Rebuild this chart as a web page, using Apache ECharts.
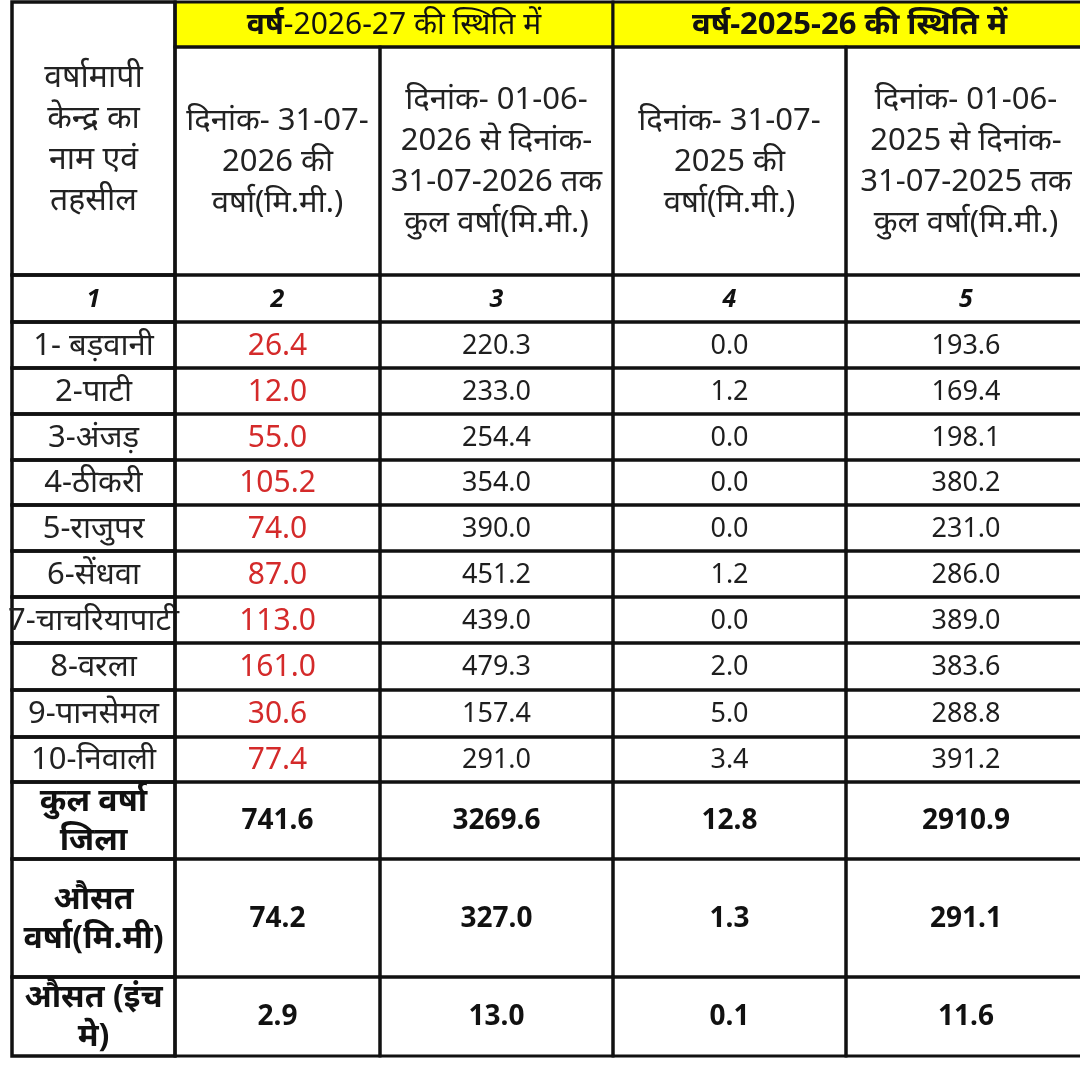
<!DOCTYPE html>
<html>
<head>
<meta charset="utf-8" />
<title>वर्षा तालिका</title>
<script src="https://cdn.jsdelivr.net/npm/echarts@6.0.0/dist/echarts.min.js"></script>
<style>html,body{margin:0;padding:0;background:#fff;}</style>
</head>
<body>
<div id="main" style="width:1080px;height:1073px;"></div>
<script type="text/javascript">
// ---- data ----
var yearHeaders = ['वर्ष-2026-27 की स्थिति में', 'वर्ष-2025-26 की स्थिति में'];
var colHeaders = [
    'वर्षामापी\nकेन्द्र का\nनाम एवं\nतहसील',
    'दिनांक- 31-07-\n2026 की\nवर्षा(मि.मी.)',
    'दिनांक- 01-06-\n2026 से दिनांक-\n31-07-2026 तक\nकुल वर्षा(मि.मी.)',
    'दिनांक- 31-07-\n2025 की\nवर्षा(मि.मी.)',
    'दिनांक- 01-06-\n2025 से दिनांक-\n31-07-2025 तक\nकुल वर्षा(मि.मी.)'
];
var colNumbers = ['1', '2', '3', '4', '5'];
var stations = ['1- बड़वानी', '2-पाटी', '3-अंजड़', '4-ठीकरी', '5-राजुपर', '6-सेंधवा',
    '7-चाचरियापाटी', '8-वरला', '9-पानसेमल', '10-निवाली'];
var rain2026Day = [26.4, 12.0, 55.0, 105.2, 74.0, 87.0, 113.0, 161.0, 30.6, 77.4];
var rain2026Total = [220.3, 233.0, 254.4, 354.0, 390.0, 451.2, 439.0, 479.3, 157.4, 291.0];
var rain2025Day = [0.0, 1.2, 0.0, 0.0, 0.0, 1.2, 0.0, 2.0, 5.0, 3.4];
var rain2025Total = [193.6, 169.4, 198.1, 380.2, 231.0, 286.0, 389.0, 383.6, 288.8, 391.2];
var summaryLabels = ['कुल वर्षा\nजिला', 'औसत\nवर्षा(मि.मी)', 'औसत (इंच\nमे)'];
var districtTotal = [741.6, 3269.6, 12.8, 2910.9];
var averageMm = [74.2, 327.0, 1.3, 291.1];
var averageInch = [2.9, 13.0, 0.1, 11.6];

// ---- layout (pixel units on hidden axes) ----
var colEdges = [12, 175, 380, 613, 846, 1086];
var rowEdges = [2, 47, 275, 322, 368, 414, 460, 505, 551, 597, 643, 690, 737, 782, 859, 977, 1056];

var FONT = "'Noto Sans', 'Noto Sans Devanagari', Lato, sans-serif";
var styles = {
    head: { fontSize: 31, lineHeight: 41, color: '#222' },
    head1: { fontSize: 32, lineHeight: 41, color: '#222' },
    num: { fontSize: 25, fontWeight: 'bold', fontStyle: 'italic', color: '#111' },
    station: { fontSize: 31, color: '#222' },
    red: { fontSize: 30, color: '#d42a2a' },
    val: { fontSize: 27, color: '#1e1e1e' },
    sumLabel: { fontSize: 32, fontWeight: 'bold', lineHeight: 39, color: '#111' },
    sumVal: { fontSize: 28, fontWeight: 'bold', color: '#111' },
    yearA: { fontSize: 30, color: '#111' },
    yearB: { fontSize: 31, fontWeight: 'bold', color: '#111' }
};

// build cell list
var cells = [];
function addCell(c0, c1, r0, r1, text, style, fill) {
    cells.push({ c0: c0, c1: c1, r0: r0, r1: r1, text: text, style: style, fill: fill || null });
}
addCell(1, 3, 0, 1, yearHeaders[0], 'yearA', '#ffff00');
addCell(3, 5, 0, 1, yearHeaders[1], 'yearB', '#ffff00');
addCell(0, 1, 0, 2, colHeaders[0], 'head1');
for (var c = 1; c < 5; c++) addCell(c, c + 1, 1, 2, colHeaders[c], 'head');
colNumbers.forEach(function (n, i) { addCell(i, i + 1, 2, 3, n, 'num'); });
stations.forEach(function (name, i) {
    var r = 3 + i;
    addCell(0, 1, r, r + 1, name, 'station');
    addCell(1, 2, r, r + 1, rain2026Day[i].toFixed(1), 'red');
    addCell(2, 3, r, r + 1, rain2026Total[i].toFixed(1), 'val');
    addCell(3, 4, r, r + 1, rain2025Day[i].toFixed(1), 'val');
    addCell(4, 5, r, r + 1, rain2025Total[i].toFixed(1), 'val');
});
[districtTotal, averageMm, averageInch].forEach(function (row, k) {
    var r = 13 + k;
    addCell(0, 1, r, r + 1, summaryLabels[k], 'sumLabel');
    row.forEach(function (v, j) {
        addCell(j + 1, j + 2, r, r + 1, v.toFixed(1), 'sumVal');
    });
});

var seriesData = cells.map(function (d) {
    return [colEdges[d.c0], rowEdges[d.r0], colEdges[d.c1], rowEdges[d.r1]];
});

function renderItem(params, api) {
    var cell = cells[params.dataIndex];
    var p0 = api.coord([api.value(0), api.value(1)]);
    var p1 = api.coord([api.value(2), api.value(3)]);
    var st = styles[cell.style];
    var textStyle = {
        text: cell.text,
        fontFamily: FONT,
        fontSize: st.fontSize,
        fontWeight: st.fontWeight || 'normal',
        fontStyle: st.fontStyle || 'normal',
        lineHeight: st.lineHeight,
        fill: st.color,
        align: 'center',
        verticalAlign: 'middle'
    };
    if (cell.style === 'yearA') {
        // first word bold, rest regular
        var parts = cell.text.split('-');
        textStyle.text = '{b|' + parts[0] + '}{n|-' + parts.slice(1).join('-') + '}';
        textStyle.rich = {
            b: { fontFamily: FONT, fontSize: st.fontSize, fontWeight: 'bold', fill: st.color },
            n: { fontFamily: FONT, fontSize: st.fontSize, fill: st.color }
        };
    }
    // first column's right border is drawn a bit heavier in the source
    var lw = cell.c1 === 1 ? 3.5 : 3;
    var children = [
        {
            type: 'rect',
            shape: { x: p0[0], y: p0[1], width: p1[0] - p0[0], height: p1[1] - p0[1] },
            style: { fill: cell.fill || 'transparent', stroke: '#111', lineWidth: lw }
        },
        {
            type: 'text',
            x: (p0[0] + p1[0]) / 2,
            y: (p0[1] + p1[1]) / 2 + 1,
            style: textStyle
        }
    ];
    return { type: 'group', children: children };
}

var myChart = echarts.init(document.getElementById('main'));
var option = {
    backgroundColor: '#fff',
    animation: false,
    grid: { left: 0, right: 0, top: 0, bottom: 0 },
    xAxis: { type: 'value', min: 0, max: 1080, show: false },
    yAxis: { type: 'value', min: 0, max: 1073, inverse: true, show: false },
    series: [{
        type: 'custom',
        renderItem: renderItem,
        clip: true,
        encode: { x: [0, 2], y: [1, 3] },
        data: seriesData
    }]
};
myChart.setOption(option);
</script>
</body>
</html>
